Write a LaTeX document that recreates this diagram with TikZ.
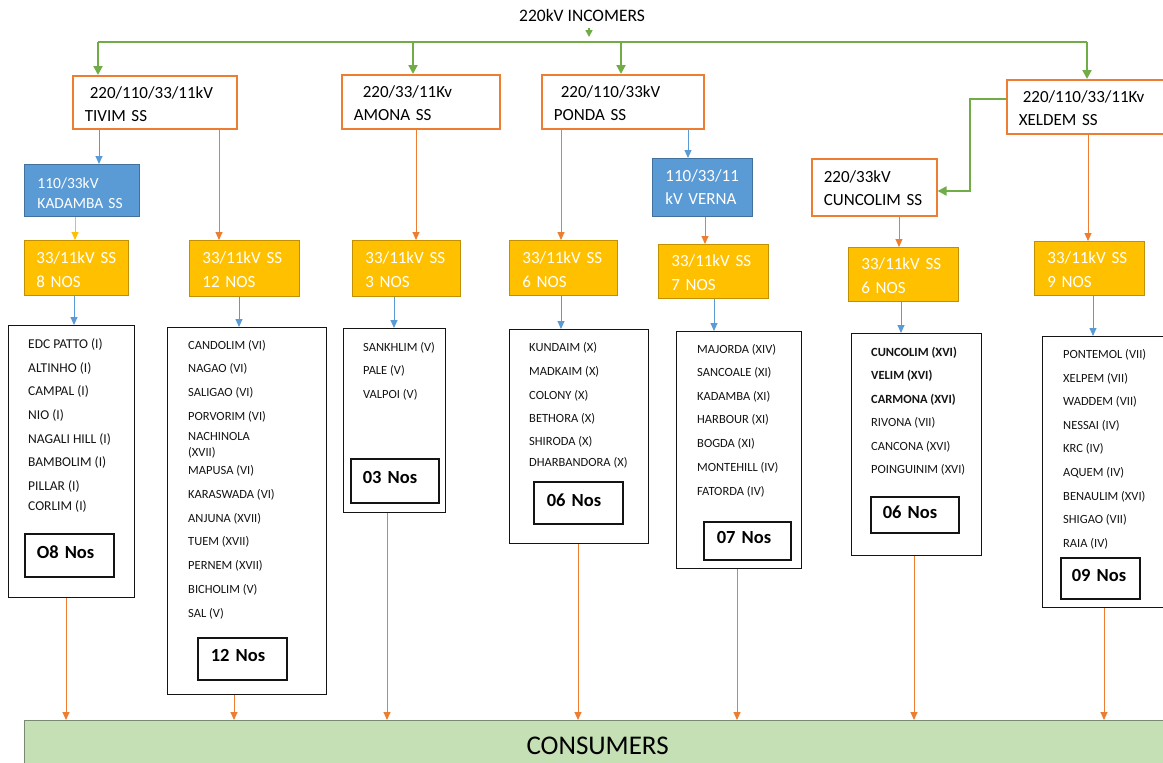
\documentclass[tikz,border=0pt]{standalone}
\usepackage{fontspec}
\setmainfont{Carlito}
\usetikzlibrary{arrows.meta}

\definecolor{orng}{HTML}{ED7D31}
\definecolor{bluef}{HTML}{5B9BD5}
\definecolor{blued}{HTML}{41719C}
\definecolor{yelf}{HTML}{FFC000}
\definecolor{yeld}{HTML}{C09000}
\definecolor{grn}{HTML}{70AD47}
\definecolor{consf}{HTML}{C5E0B4}
\definecolor{consd}{HTML}{7A8A72}
\definecolor{ink}{HTML}{141414}

\tikzset{
  hdr/.style={draw=orng, line width=1.6pt, fill=white, anchor=north west,
    inner xsep=12pt, inner ysep=0pt, align=left, text=black, text height=14.7pt,
    font=\fontsize{17}{23}\selectfont},
  subst/.style={draw=yeld, line width=0.9pt, fill=yelf, anchor=north west,
    inner xsep=13pt, inner ysep=0pt, align=left, text=white, text height=14.7pt,
    font=\fontsize{17}{24}\selectfont},
  bluebox/.style={draw=blued, line width=0.9pt, fill=bluef, anchor=north west,
    inner xsep=13pt, inner ysep=0pt, align=left, text=white,
    font=\fontsize{17}{23}\selectfont},
  listbox/.style={draw=ink, line width=1.2pt, anchor=north west, inner sep=0pt},
  item/.style={anchor=base west, inner sep=0pt, text=ink,
    font=\fontsize{12.5}{14}\selectfont},
  countbox/.style={draw=ink, line width=1.5pt, anchor=north west,
    inner xsep=12pt, inner ysep=0pt, align=left, text=black, text depth=6pt,
    font=\bfseries\fontsize{18.5}{22}\selectfont},
  gline/.style={draw=grn, line width=2pt},
  garr/.style={draw=grn, line width=2pt, -{Triangle[width=9pt,length=9pt]}},
  oarr/.style={draw=orng, line width=0.9pt, -{Triangle[width=7pt,length=8pt]}},
  barr/.style={draw=bluef, line width=0.9pt, -{Triangle[width=7pt,length=8pt]}},
  yarr/.style={draw=yelf, line width=0.9pt, -{Triangle[width=7pt,length=8pt]}},
}

\begin{document}
\begin{tikzpicture}[x=1pt,y=-1pt]
\clip (0,0) rectangle (1163,763);
\fill[white] (0,0) rectangle (1163,763);

% ---------- incoming supply ----------
\node[font=\fontsize{17.5}{20}\selectfont, text=black] (inc) at (582,15) {220kV INCOMERS};

% ---------- 220 kV substations ----------
\node[hdr, text width=140pt, minimum height=53pt] (tivim) at (72,75)
  {\hspace*{5pt}220/110/33/11kV\\TIVIM SS};
\node[hdr, text width=134pt, minimum height=54pt] (amona) at (341,74)
  {\hspace*{9pt}220/33/11Kv\\AMONA SS};
\node[hdr, text width=138pt, minimum height=54pt] (ponda) at (541,74)
  {\hspace*{7pt}220/110/33kV\\PONDA SS};
\node[hdr, text width=146pt, minimum height=54pt] (xeldem) at (1006,79)
  {\hspace*{4pt}220/110/33/11Kv\\XELDEM SS};
\node[hdr, text width=101pt, minimum height=57pt, text height=13pt] (cun) at (811,158)
  {220/33kV\\CUNCOLIM SS};

% ---------- 110 kV substations ----------
\node[bluebox, text width=89pt, minimum height=52pt, text height=16pt,
      font=\fontsize{15.5}{20}\selectfont] (kad) at (24,164)
  {110/33kV\\KADAMBA SS};
\node[bluebox, text width=74pt, minimum height=58pt] (verna) at (652,158)
  {110/33/11\\kV VERNA};

% ---------- 33/11 kV groups ----------
\node[subst, text width=80pt, minimum height=55pt, inner xsep=12pt] (y1) at (24,240) {33/11kV SS\\8 NOS};
\node[subst, text width=84pt, minimum height=56pt] (y2) at (189,240) {33/11kV SS\\12 NOS};
\node[subst, text width=82pt, minimum height=56pt] (y3) at (352,240) {33/11kV SS\\3 NOS};
\node[subst, text width=82pt, minimum height=55pt] (y4) at (509,240) {33/11kV SS\\6 NOS};
\node[subst, text width=84pt, minimum height=54pt] (y5) at (658,244) {33/11kV SS\\7 NOS};
\node[subst, text width=84pt, minimum height=54pt] (y6) at (848,247) {33/11kV SS\\6 NOS};
\node[subst, text width=84pt, minimum height=54pt] (y7) at (1034,241) {33/11kV SS\\9 NOS};

% ---------- substation lists ----------
\node[listbox, minimum width=126pt, minimum height=272pt] (l1) at (8,325) {};
\node[listbox, minimum width=159pt, minimum height=367pt] (l2) at (167,327) {};
\node[listbox, minimum width=102pt, minimum height=184pt] (l3) at (343,328) {};
\node[listbox, minimum width=139pt, minimum height=214pt] (l4) at (509,329) {};
\node[listbox, minimum width=125pt, minimum height=237pt] (l5) at (676,331) {};
\node[listbox, minimum width=130pt, minimum height=222pt] (l6) at (851,333) {};
\node[listbox, minimum width=140pt, minimum height=271pt] (l7) at (1042,336) {};

\foreach \yy/\lbl [count=\i] in {348/EDC PATTO (I), 372/ALTINHO (I), 395.5/CAMPAL (I),
    419/NIO (I), 443/NAGALI HILL (I), 466/BAMBOLIM (I), 490/PILLAR (I),
    510/CORLIM (I)}
  \node[item, font=\fontsize{13.5}{15}\selectfont] (a\i) at (28,\yy) {\lbl};

\foreach \yy/\lbl [count=\i] in {349/CANDOLIM (VI), 372/NAGAO (VI), 396/SALIGAO (VI),
    420/PORVORIM (VI), 440/NACHINOLA, 456/(XVII), 474/MAPUSA (VI), 498/KARASWADA (VI),
    522/ANJUNA (XVII), 545/TUEM (XVII), 569/PERNEM (XVII), 593/BICHOLIM (V), 617/SAL (V)}
  \node[item] (b\i) at (188,\yy) {\lbl};

\foreach \yy/\lbl [count=\i] in {351/SANKHLIM (V), 374/PALE (V), 398/VALPOI (V)}
  \node[item] (c\i) at (363,\yy) {\lbl};

\foreach \yy/\lbl [count=\i] in {351/KUNDAIM (X), 375/MADKAIM (X), 399/COLONY (X),
    422/BETHORA (X), 445/SHIRODA (X), 466/DHARBANDORA (X)}
  \node[item] (d\i) at (529,\yy) {\lbl};

\foreach \yy/\lbl [count=\i] in {353/MAJORDA (XIV), 376.5/SANCOALE (XI), 400/KADAMBA (XI),
    423.5/HARBOUR (XI), 447/BOGDA (XI), 471/MONTEHILL (IV), 495/FATORDA (IV)}
  \node[item] (e\i) at (697,\yy) {\lbl};

\foreach \yy/\lbl [count=\i] in {356/\textbf{CUNCOLIM (XVI)}, 379.5/\textbf{VELIM (XVI)},
    403/\textbf{CARMONA (XVI)}, 426.5/RIVONA (VII), 450/CANCONA (XVI), 473.5/POINGUINIM (XVI)}
  \node[item] (f\i) at (871,\yy) {\lbl};

\foreach \yy/\lbl [count=\i] in {358/PONTEMOL (VII), 382/XELPEM (VII), 405.5/WADDEM (VII),
    429/NESSAI (IV), 452.5/KRC (IV), 476/AQUEM (IV), 500/BENAULIM (XVI),
    523.5/SHIGAO (VII), 547/RAIA (IV)}
  \node[item] (h\i) at (1063,\yy) {\lbl};

% ---------- totals ----------
\node[countbox, text width=65pt, minimum height=43pt] (n1) at (24,533) {O8 Nos};
\node[countbox, text width=63pt, minimum height=42pt, inner xsep=13pt] (n2) at (197,637) {12 Nos};
\node[countbox, text width=64pt, minimum height=44pt] (n3) at (350,458) {03 Nos};
\node[countbox, text width=63pt, minimum height=42pt, inner xsep=13pt] (n4) at (533,481) {06 Nos};
\node[countbox, text width=61pt, minimum height=38pt, inner xsep=13pt] (n5) at (703,521) {07 Nos};
\node[countbox, text width=64pt, minimum height=36pt] (n6) at (870,496) {06 Nos};
\node[countbox, text width=57pt, minimum height=41pt, inner xsep=11pt] (n7) at (1060,557) {09 Nos};

% ---------- consumers ----------
\node[draw=consd, line width=1.2pt, fill=consf, anchor=north west, inner sep=0pt,
      minimum width=1146pt, minimum height=50pt, text=black,
      font=\fontsize{27}{30}\selectfont] (cons) at (24,720) {CONSUMERS};

% ---------- 220 kV bus ----------
\coordinate (gi) at (589,37);
\coordinate (g1) at (98,42);
\coordinate (g2) at (413,42);
\coordinate (g3) at (621,42);
\coordinate (g4) at (1087,42);
\draw[garr, line width=1.6pt, -{Triangle[width=7pt,length=7pt]}] ([yshift=-3pt]inc.south -| gi) -- (gi);
\draw[gline] (g1) -- (g4);
\draw[garr] (g1) -- (tivim.north -| g1);
\draw[garr] (g2) -- (amona.north -| g2);
\draw[garr] (g3) -- (ponda.north -| g3);
\draw[garr] (g4) -- (xeldem.north -| g4);

% Xeldem feeds Cuncolim
\coordinate (e1) at (970,99);
\coordinate (e2) at (970,191);
\draw[garr] (xeldem.west |- e1) -- (e1) -- (e2) -- (cun.east |- e2);

% ---------- downstream feeders ----------
\coordinate (v1) at (99,0);
\coordinate (v2) at (219,0);
\coordinate (v3) at (75,0);
\coordinate (v4) at (416,0);
\coordinate (v5) at (561,0);
\coordinate (v6) at (688,0);
\coordinate (v7) at (705,0);
\coordinate (v8) at (899,0);
\coordinate (v9) at (1088,0);
\draw[barr] (tivim.south -| v1) -- (kad.north -| v1);
\draw[oarr] (tivim.south -| v2) -- (y2.north -| v2);
\draw[yarr] (kad.south -| v3) -- (y1.north -| v3);
\draw[oarr] (amona.south -| v4) -- (y3.north -| v4);
\draw[oarr] (ponda.south -| v5) -- (y4.north -| v5);
\draw[barr] (ponda.south -| v6) -- (verna.north -| v6);
\draw[oarr] (verna.south -| v7) -- (y5.north -| v7);
\draw[oarr] (cun.south -| v8) -- (y6.north -| v8);
\draw[oarr] (xeldem.south -| v9) -- (y7.north -| v9);

% groups to their lists
\coordinate (w1) at (74,0);
\coordinate (w2) at (239,0);
\coordinate (w3) at (394,0);
\coordinate (w4) at (561,0);
\coordinate (w5) at (714,0);
\coordinate (w6) at (901,0);
\coordinate (w7) at (1093,0);
\draw[barr] (y1.south -| w1) -- (l1.north -| w1);
\draw[barr] (y2.south -| w2) -- (l2.north -| w2);
\draw[barr] (y3.south -| w3) -- (l3.north -| w3);
\draw[barr] (y4.south -| w4) -- (l4.north -| w4);
\draw[barr] (y5.south -| w5) -- (l5.north -| w5);
\draw[barr] (y6.south -| w6) -- (l6.north -| w6);
\draw[barr] (y7.south -| w7) -- (l7.north -| w7);

% lists to consumers
\coordinate (k1) at (66,0);
\coordinate (k2) at (234,0);
\coordinate (k3) at (387,0);
\coordinate (k4) at (578,0);
\coordinate (k5) at (737,0);
\coordinate (k6) at (914,0);
\coordinate (k7) at (1104,0);
\draw[oarr] (l1.south -| k1) -- (cons.north -| k1);
\draw[oarr] (l2.south -| k2) -- (cons.north -| k2);
\draw[oarr] (l3.south -| k3) -- (cons.north -| k3);
\draw[oarr] (l4.south -| k4) -- (cons.north -| k4);
\draw[oarr] (l5.south -| k5) -- (cons.north -| k5);
\draw[oarr] (l6.south -| k6) -- (cons.north -| k6);
\draw[oarr] (l7.south -| k7) -- (cons.north -| k7);
\end{tikzpicture}
\end{document}
